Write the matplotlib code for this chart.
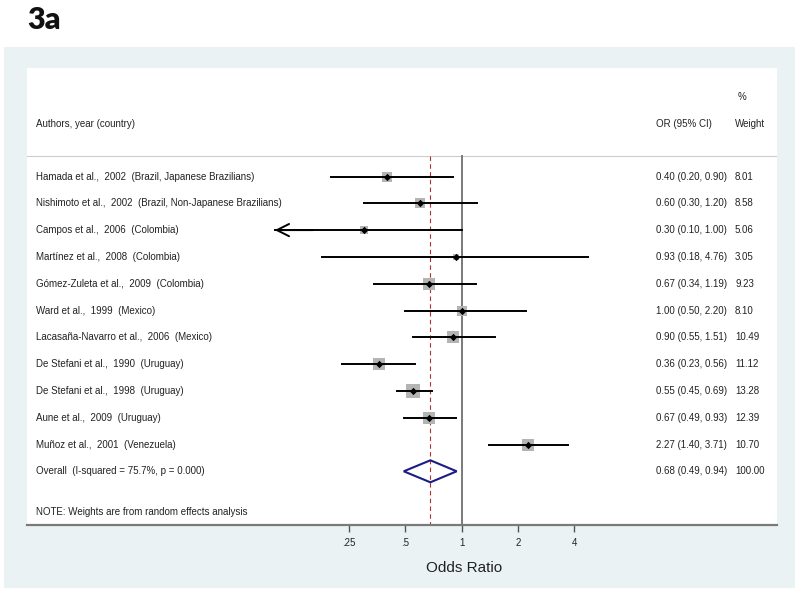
import matplotlib
matplotlib.use("Agg")
import matplotlib.pyplot as plt
from matplotlib.patches import Rectangle, Polygon
from matplotlib.transforms import blended_transform_factory
from matplotlib.ticker import FixedLocator, FixedFormatter, NullLocator

plt.rcParams['font.family'] = ['Liberation Sans', 'DejaVu Sans']

studies = [
    "Hamada et al.,  2002  (Brazil, Japanese Brazilians)",
    "Nishimoto et al.,  2002  (Brazil, Non-Japanese Brazilians)",
    "Campos et al.,  2006  (Colombia)",
    "Martínez et al.,  2008  (Colombia)",
    "Gómez-Zuleta et al.,  2009  (Colombia)",
    "Ward et al.,  1999  (Mexico)",
    "Lacasaña-Navarro et al.,  2006  (Mexico)",
    "De Stefani et al.,  1990  (Uruguay)",
    "De Stefani et al.,  1998  (Uruguay)",
    "Aune et al.,  2009  (Uruguay)",
    "Muñoz et al.,  2001  (Venezuela)",
]
or_est = [0.40, 0.60, 0.30, 0.93, 0.67, 1.00, 0.90, 0.36, 0.55, 0.67, 2.27]
ci_lo = [0.20, 0.30, 0.10, 0.18, 0.34, 0.50, 0.55, 0.23, 0.45, 0.49, 1.40]
ci_hi = [0.90, 1.20, 1.00, 4.76, 1.19, 2.20, 1.51, 0.56, 0.69, 0.93, 3.71]
weights = [8.01, 8.58, 5.06, 3.05, 9.23, 8.10, 10.49, 11.12, 13.28, 12.39, 10.70]

overall_label = "Overall  (I-squared = 75.7%, p = 0.000)"
overall_est = 0.68
overall_lo = 0.49
overall_hi = 0.94
overall_weight = 100.00

tick_vals = [0.25, 0.5, 1, 2, 4]
tick_labels = [".25", ".5", "1", "2", "4"]

W, H = 800, 592
fig = plt.figure(figsize=(W / 100, H / 100), dpi=100)
fig.patch.set_facecolor('white')

# outer panel
fig.patches.append(Rectangle((4 / W, 1 - 588 / H), 791 / W, 541 / H,
                             transform=fig.transFigure, facecolor='#eaf2f4',
                             edgecolor='none', zorder=-5))

fig.text(27 / W, 1 - 6 / H, "3a", fontsize=22, fontweight='heavy',
         family=['Lato', 'DejaVu Sans'], va='top', ha='left', color='#111111')

ax_left, ax_right, ax_top, ax_bot = 27, 777, 68, 525
ax = fig.add_axes([ax_left / W, 1 - ax_bot / H, (ax_right - ax_left) / W,
                   (ax_bot - ax_top) / H])
ax.set_zorder(2)
ax.set_facecolor('white')
ax.set_xscale('log', base=2)
x1px, per2 = 461.7, 56.3
ax.set_xlim(2 ** ((ax_left - x1px) / per2), 2 ** ((ax_right - x1px) / per2))
row0, pitch = 176.5, 26.8
ax.set_ylim((ax_bot - row0) / pitch, (ax_top - row0) / pitch)

for s in ['top', 'left', 'right']:
    ax.spines[s].set_visible(False)
ax.spines['bottom'].set_color('#7a7a7a')
ax.spines['bottom'].set_linewidth(1.6)
ax.yaxis.set_major_locator(NullLocator())
ax.xaxis.set_major_locator(FixedLocator(tick_vals))
ax.xaxis.set_major_formatter(FixedFormatter(tick_labels))
ax.xaxis.set_minor_locator(NullLocator())
ax.tick_params(axis='x', direction='out', length=5, width=1.0, color='#555555',
               labelsize=7, pad=4, labelcolor='#222222')
ax.set_xlabel("Odds Ratio", fontsize=11, labelpad=10, color='#222222')
ax.xaxis.label.set_x((464 - ax_left) / (ax_right - ax_left))

sep_y = (156 - row0) / pitch
ybot = ax.get_ylim()[0]
ax.axhline(sep_y, color='#cccccc', lw=0.8)
ax.plot([1, 1], [sep_y, ybot], color='#7a7a7a', lw=1.4, zorder=2)
ax.plot([overall_est, overall_est], [sep_y, ybot], color='#b03030', lw=0.8,
        ls=(0, (4, 3)), zorder=2)

tr = blended_transform_factory(ax.transAxes, ax.transData)
fs = 7.0
tcol = '#222222'
xl = (36 - ax_left) / (ax_right - ax_left)
xor = (656 - ax_left) / (ax_right - ax_left)
xw = (735 - ax_left) / (ax_right - ax_left)

hdr = (124 - row0) / pitch
ax.text(xl, hdr, "Authors, year (country)", transform=tr, fontsize=fs, va='center', color=tcol)
ax.text(xor, hdr, "OR (95% CI)", transform=tr, fontsize=fs, va='center', color=tcol)
ax.text(xw, hdr, "Weight", transform=tr, fontsize=fs, va='center', color=tcol)
ax.text(xw + 0.003, (97 - row0) / pitch, "%", transform=tr, fontsize=fs, va='center', color=tcol)

for i, (lab, e, lo, hi, w) in enumerate(zip(studies, or_est, ci_lo, ci_hi, weights)):
    ax.scatter([e], [i], marker='s', s=7.0 * w, color='#b4b4b4', zorder=3, linewidths=0)
    ax.plot([lo, hi], [i, i], color='black', lw=1.4, zorder=4)
    if lo <= 0.1001:
        ax.annotate('', xy=(lo, i), xytext=(lo * 1.6, i),
                    arrowprops=dict(arrowstyle='->', lw=1.4, color='black',
                                    mutation_scale=22, shrinkA=0, shrinkB=0),
                    zorder=4)
    ax.scatter([e], [i], marker='D', s=14, color='black', zorder=5, linewidths=0)
    ax.text(xl, i, lab, transform=tr, fontsize=fs, va='center', color=tcol)
    ax.text(xor, i, f"{e:.2f} ({lo:.2f}, {hi:.2f})", transform=tr, fontsize=fs,
            va='center', color=tcol)
    ax.text(xw, i, f"{w:.2f}", transform=tr, fontsize=fs, va='center', color=tcol)

io = len(studies)
h = 11 / pitch
ax.add_patch(Polygon([(overall_lo, io), (overall_est, io - h), (overall_hi, io),
                      (overall_est, io + h)], closed=True, fill=False,
                     edgecolor='#1c1c85', lw=1.5, zorder=4))
ax.text(xl, io, overall_label, transform=tr, fontsize=fs, va='center', color=tcol)
ax.text(xor, io, f"{overall_est:.2f} ({overall_lo:.2f}, {overall_hi:.2f})",
        transform=tr, fontsize=fs, va='center', color=tcol)
ax.text(xw, io, f"{overall_weight:.2f}", transform=tr, fontsize=fs, va='center', color=tcol)

ax.text(xl, (512 - row0) / pitch, "NOTE: Weights are from random effects analysis",
        transform=tr, fontsize=fs, va='center', color=tcol)

fig.savefig("out.png", dpi=100)
